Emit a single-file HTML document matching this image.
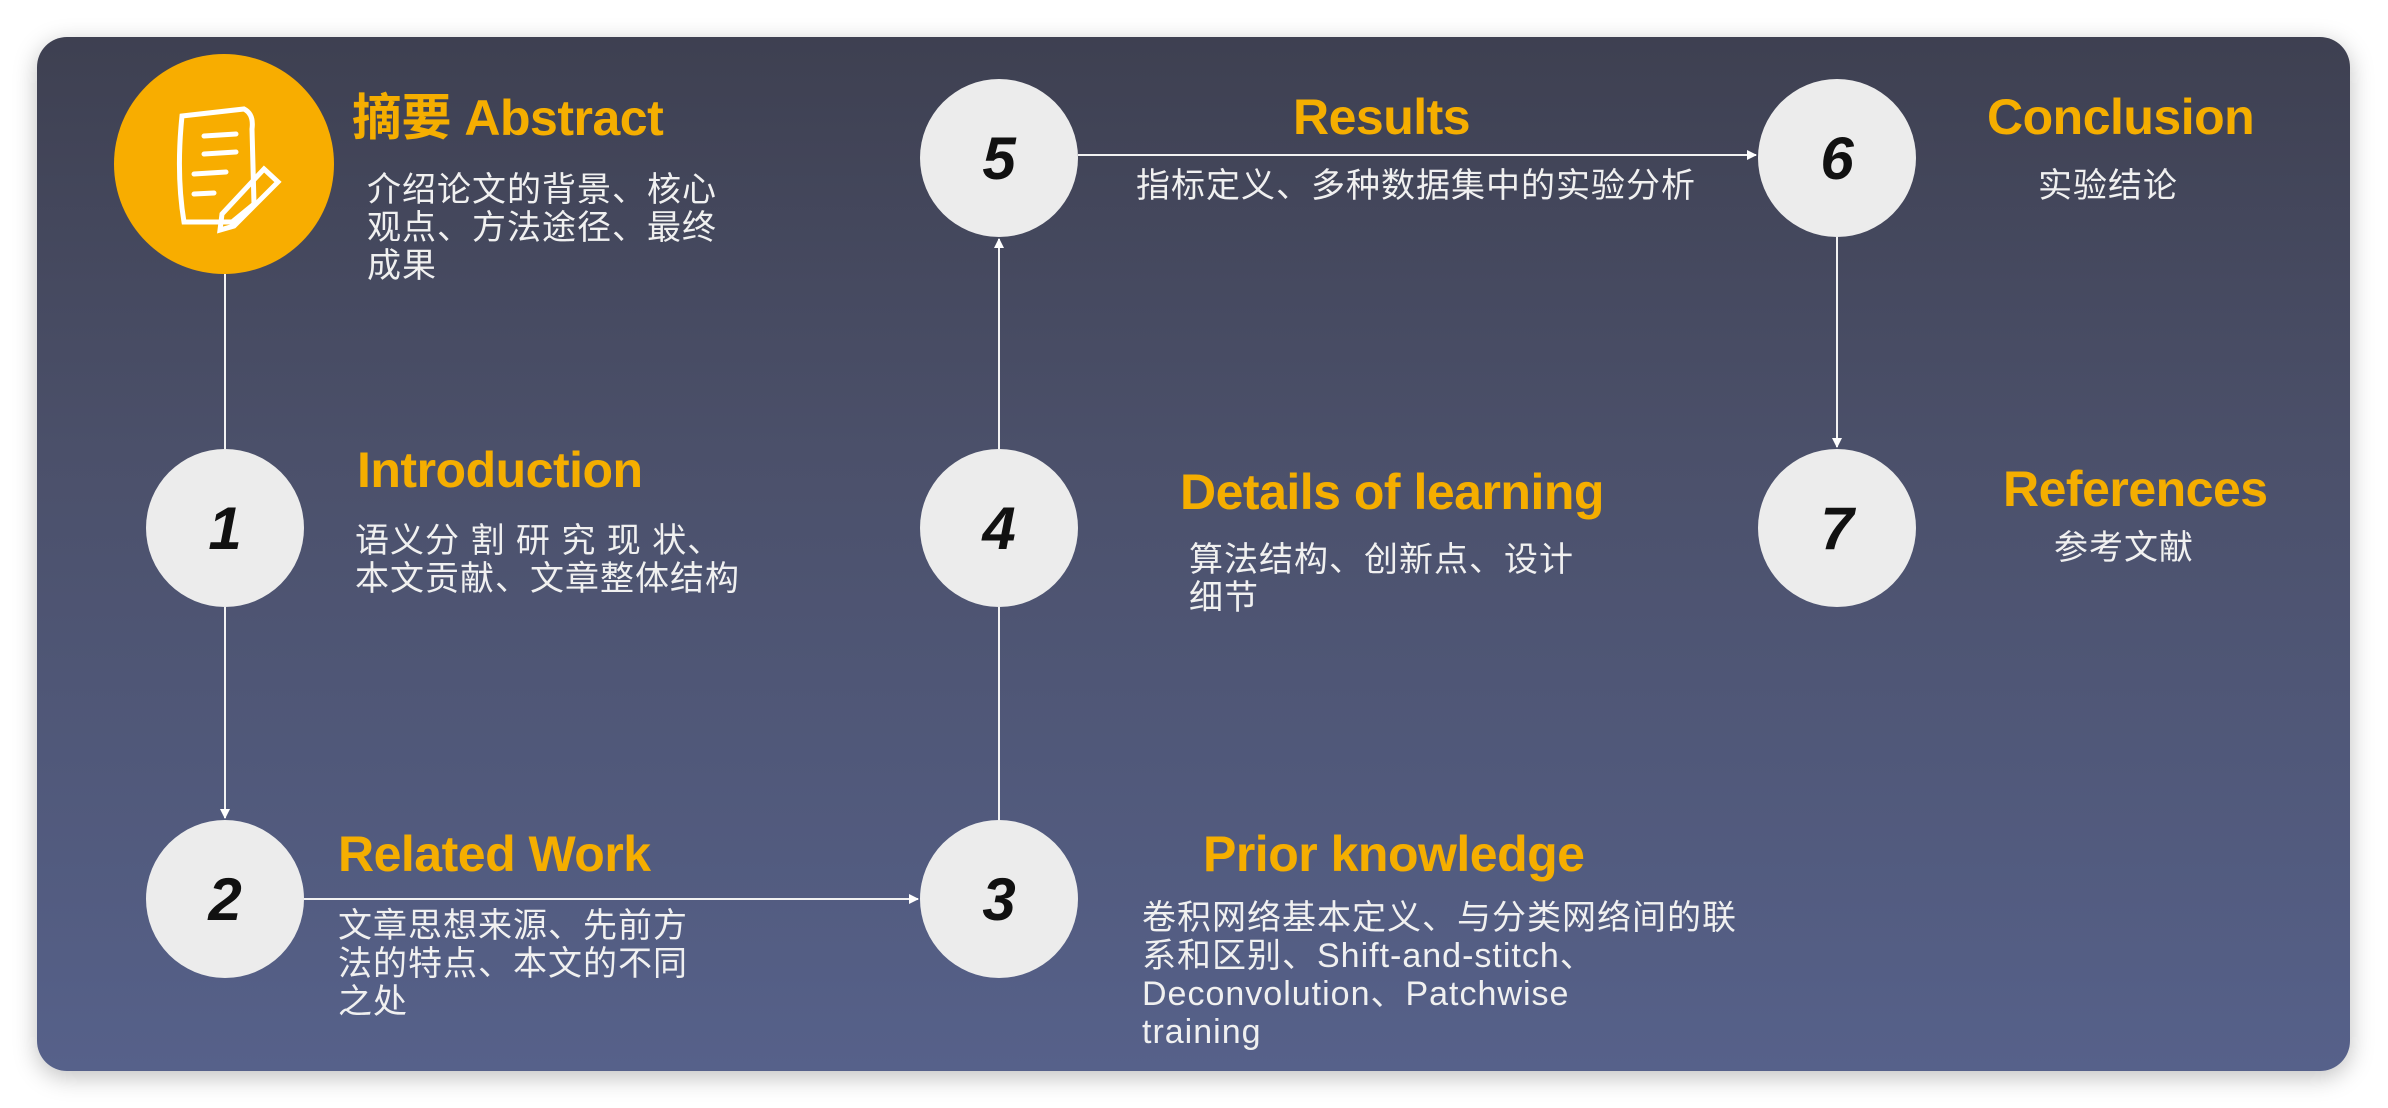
<!DOCTYPE html>
<html><head><meta charset="utf-8"><style>
body{margin:0;width:2388px;height:1108px;background:#fff;overflow:hidden;position:relative;font-family:"Liberation Sans","Noto Sans CJK SC",sans-serif}
#card{position:absolute;left:37px;top:37px;width:2313px;height:1034px;border-radius:30px;background:linear-gradient(180deg,#3e4051 0%,#4b506a 40%,#56618a 100%);box-shadow:0 6px 24px rgba(0,0,0,.25)}
.t{position:absolute;color:#f5ae00;font-weight:bold;font-size:50px;line-height:54px;white-space:nowrap;letter-spacing:-0.5px}
.d{position:absolute;color:#f0f0f0;font-size:34px;line-height:38px;white-space:nowrap;letter-spacing:1px}
.c{position:absolute;width:158px;height:158px;border-radius:50%;background:#ececec;display:flex;align-items:center;justify-content:center;font-style:italic;font-weight:bold;font-size:60px;color:#111}
svg{position:absolute;left:0;top:0}
</style></head><body>
<div id="card"></div>
<svg width="2388" height="1108">
<defs><marker id="a" markerWidth="10" markerHeight="10" refX="9" refY="5" orient="auto" markerUnits="userSpaceOnUse"><path d="M0,0 L10,5 L0,10 z" fill="#fff"/></marker></defs>
<g stroke="#f2f2f2" stroke-width="2" fill="none">
<line x1="225" y1="274" x2="225" y2="449"/>
<line x1="225" y1="607" x2="225" y2="818" marker-end="url(#a)"/>
<line x1="304" y1="899" x2="918" y2="899" marker-end="url(#a)"/>
<line x1="999" y1="820" x2="999" y2="607"/>
<line x1="999" y1="449" x2="999" y2="239" marker-end="url(#a)"/>
<line x1="1078" y1="155" x2="1756" y2="155" marker-end="url(#a)"/>
<line x1="1837" y1="237" x2="1837" y2="447" marker-end="url(#a)"/>
</g></svg>
<div style="position:absolute;left:114px;top:54px;width:220px;height:220px;border-radius:50%;background:#f8ad00">
<svg width="220" height="220" style="left:0;top:0"><g stroke="#fff" stroke-width="5" fill="none" stroke-linecap="round">
<path d="M68,62 L130,55 Q140,60 138,75 L140,150 L118,168 L70,168 Q62,120 68,62z"/>
<path d="M90,82 L122,80 M90,100 L122,98 M80,120 L112,118 M80,140 L100,139"/>
<path d="M150,115 L164,128 L120,172 L106,176 L108,160 z"/></g></svg></div>
<div class="c" style="left:146px;top:449px">1</div>
<div class="c" style="left:146px;top:820px">2</div>
<div class="c" style="left:920px;top:820px">3</div>
<div class="c" style="left:920px;top:449px">4</div>
<div class="c" style="left:920px;top:79px">5</div>
<div class="c" style="left:1758px;top:79px">6</div>
<div class="c" style="left:1758px;top:449px">7</div>
<div class="t" style="left:352px;top:91px">摘要 Abstract</div>
<div class="d" style="left:367px;top:171px">介绍论文的背景、核心<br>观点、方法途径、最终<br>成果</div>
<div class="t" style="left:357px;top:443px">Introduction</div>
<div class="d" style="left:355px;top:522px">语义分 割 研 究 现 状、<br>本文贡献、文章整体结构</div>
<div class="t" style="left:338px;top:827px">Related Work</div>
<div class="d" style="left:338px;top:907px">文章思想来源、先前方<br>法的特点、本文的不同<br>之处</div>
<div class="t" style="left:1203px;top:827px">Prior knowledge</div>
<div class="d" style="left:1142px;top:899px">卷积网络基本定义、与分类网络间的联<br>系和区别、Shift-and-stitch、<br>Deconvolution、Patchwise<br>training</div>
<div class="t" style="left:1180px;top:465px">Details of learning</div>
<div class="d" style="left:1189px;top:541px">算法结构、创新点、设计<br>细节</div>
<div class="t" style="left:1293px;top:90px">Results</div>
<div class="d" style="left:1136px;top:167px">指标定义、多种数据集中的实验分析</div>
<div class="t" style="left:1987px;top:90px">Conclusion</div>
<div class="d" style="left:2038px;top:167px">实验结论</div>
<div class="t" style="left:2003px;top:462px">References</div>
<div class="d" style="left:2054px;top:529px">参考文献</div>
</body></html>
